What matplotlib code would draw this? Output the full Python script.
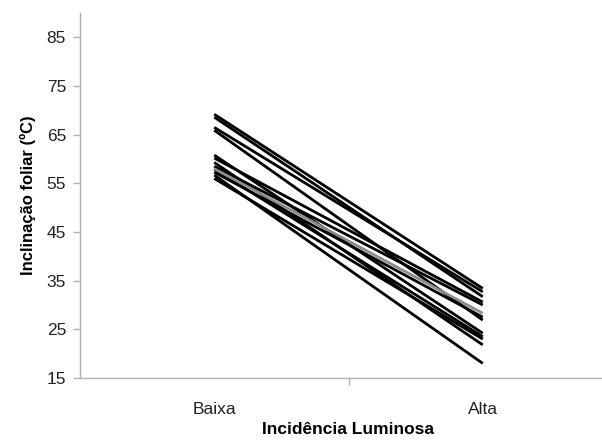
import matplotlib.pyplot as plt

plt.rcParams['font.family'] = ['Liberation Sans', 'DejaVu Sans']

categories = ["Baixa", "Alta"]
# leaf inclination per plant (low light, high light)
baixa = [69.2, 68.6, 66.5, 65.9, 60.8, 60.2, 59.3, 58.5, 57.9, 57.3, 56.7, 56.0]
alta = [33.4, 31.7, 32.7, 26.9, 24.2, 30.6, 21.8, 30.0, 23.5, 27.5, 18.0, 23.0]
gray_baixa = 58.0
gray_alta = 28.3
yticks = [15, 25, 35, 45, 55, 65, 75, 85]

fig = plt.figure(figsize=(6.02, 4.41), dpi=100)
ax = fig.add_axes([80 / 602, 1 - 378 / 441, 537 / 602, 365 / 441])

xs = [0.5, 1.5]
for b, a in zip(baixa, alta):
    ax.plot(xs, [b, a], color='black', lw=2.0, solid_capstyle='butt')
ax.plot(xs, [gray_baixa, gray_alta], color='#8c8c8c', lw=2.0, solid_capstyle='butt')

ax.set_xlim(0, 2)
ax.set_ylim(15, 90)
ax.set_yticks(yticks)
ax.set_yticklabels([str(v) for v in yticks], fontsize=12.5, color='#222222')

# category labels between the tick marks, excel style
ax.set_xticks([1])
ax.set_xticklabels([""])
for x, c in zip(xs, categories):
    ax.text(x, -0.085, c, transform=ax.get_xaxis_transform(), ha='center', va='center',
            fontsize=12.5, color='#222222')

ax.tick_params(axis='both', direction='out', color='#b0b0b0', length=5, width=1)
ax.tick_params(axis='y', pad=5)
for s in ['top', 'right']:
    ax.spines[s].set_visible(False)
for s in ['left', 'bottom']:
    ax.spines[s].set_color('#b0b0b0')
    ax.spines[s].set_linewidth(1)

ax.set_ylabel("Inclinação foliar (ºC)", fontsize=12, fontweight='bold', labelpad=8)
fig.text(348 / 602, 1 - 429 / 441, "Incidência Luminosa", ha='center', va='center',
         fontsize=12.5, fontweight='bold')

fig.savefig("out.png", dpi=100)
